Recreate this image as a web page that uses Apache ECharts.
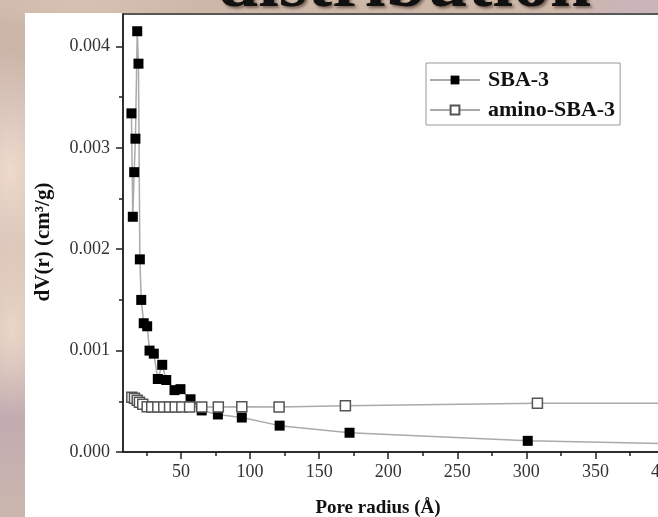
<!DOCTYPE html>
<html>
<head>
<meta charset="utf-8">
<script src="https://cdn.jsdelivr.net/npm/echarts@6/dist/echarts.min.js"></script>
<style>
  html, body { margin: 0; padding: 0; }
  body {
    width: 658px; height: 517px; position: relative; overflow: hidden;
    background:
      radial-gradient(ellipse 60px 120px at 10px 170px, rgba(245,225,210,0.85), rgba(245,225,210,0) 100%),
      radial-gradient(ellipse 50px 90px at 12px 330px, rgba(240,222,205,0.8), rgba(240,222,205,0) 100%),
      radial-gradient(ellipse 80px 30px at 640px 6px, rgba(200,180,190,0.9), rgba(200,180,190,0) 100%),
      radial-gradient(ellipse 120px 25px at 80px 4px, rgba(215,195,180,0.9), rgba(215,195,180,0) 100%),
      linear-gradient(180deg, #cdb7a8 0%, #c7b2ac 30%, #d6c0b4 55%, #c0acb0 80%, #cbb6ae 100%);
  }
  #panel { position: absolute; left: 25px; top: 13px; right: 0; bottom: 0; background: #fff; }
  #heading {
    position: absolute; left: 217px; top: -56px; width: 380px;
    font-family: "Liberation Serif", serif; font-weight: bold; font-size: 74px; line-height: 74px;
    color: #111; white-space: nowrap; text-shadow: 2px 2px 3px rgba(60,40,30,0.6);
  }
  /* the plot runs on past the right edge of the window */
  #chart { position: absolute; left: 0; top: 0; width: 790px; height: 517px; }
</style>
</head>
<body>
<div id="heading">distribution</div>
<div id="panel"></div>
<div id="chart"></div>
<script>
// pore size distribution
const sbaX = [14.1, 15.1, 16.1, 17.0, 18.3, 19.2, 20.2, 21.2, 23.0, 25.5, 27.2, 30.3, 33.2, 36.4, 39.3, 45.3, 49.6, 56.9, 65.0, 76.7, 94.0, 121.4, 172.0, 301.0, 450.0];
const sbaY = [0.00334, 0.00232, 0.00276, 0.00309, 0.00415, 0.00383, 0.00190, 0.00150, 0.00127, 0.00124, 0.00100, 0.00097, 0.00072, 0.00086, 0.00071, 0.00061, 0.00062, 0.00052, 0.00041, 0.00037, 0.00034, 0.00026, 0.00019, 0.00011, 0.00007];

const aminoX = [14.4, 16.3, 18.3, 19.9, 22.3, 25.5, 28.8, 33.2, 37.5, 41.7, 45.8, 50.6, 56.2, 65.0, 77.0, 94.0, 121.0, 169.0, 308.0, 460.0];
const aminoY = [0.00054, 0.00053, 0.00051, 0.00049, 0.00047, 0.000447, 0.000445, 0.000445, 0.000445, 0.000445, 0.000445, 0.000445, 0.000445, 0.000445, 0.000445, 0.000447, 0.000445, 0.000455, 0.00048, 0.00048];

const xMajorTicks = [50, 100, 150, 200, 250, 300, 350, 400, 450];
const xMinorTicks = [25, 75, 125, 175, 225, 275, 325, 375, 425, 475];
const yMajorTicks = [0, 0.001, 0.002, 0.003, 0.004];
const yMinorTicks = [0.0005, 0.0015, 0.0025, 0.0035];

const legendNames = ['SBA-3', 'amino-SBA-3'];

const serif = 'Liberation Serif';
const ink = '#222';

const chart = echarts.init(document.getElementById('chart'));

const toPairs = (xs, ys) => xs.map((x, i) => [x, ys[i]]);

const majorAxis = (extra) => Object.assign({
  type: 'value',
  axisLine: { show: true, onZero: false, lineStyle: { color: ink, width: 1.5 } },
  splitLine: { show: false },
}, extra);

const option = {
  animation: false,
  backgroundColor: 'transparent',
  grid: {
    // 8 -> x 123, 480 -> x ~775
    left: 123, top: 14, right: 15, bottom: 65,
    show: true, borderColor: ink, borderWidth: 1.5, backgroundColor: 'transparent'
  },
  legend: {
    orient: 'vertical',
    left: 426, top: 63,
    padding: [6, 5, 4, 3],
    itemWidth: 50, itemHeight: 11, itemGap: 8,
    backgroundColor: '#fff',
    borderColor: '#999', borderWidth: 1,
    textStyle: { fontFamily: serif, fontWeight: 'bold', fontSize: 22, color: '#111', padding: [0, 0, 0, 3] },
    data: legendNames
  },
  xAxis: [
    majorAxis({
      min: 8, max: 480, position: 'bottom',
      axisTick: { show: true, inside: false, length: 7, customValues: xMajorTicks, lineStyle: { color: ink, width: 1.5 } },
      axisLabel: { customValues: xMajorTicks, margin: 11, color: '#333', fontFamily: serif, fontSize: 18 }
    }),
    {
      type: 'value', min: 8, max: 480, position: 'bottom',
      axisLine: { show: false },
      axisTick: { show: true, inside: false, length: 4, customValues: xMinorTicks, lineStyle: { color: ink, width: 1.5 } },
      axisLabel: { show: false },
      splitLine: { show: false }
    }
  ],
  yAxis: [
    majorAxis({
      min: 0, max: 0.00432, position: 'left',
      axisTick: { show: true, inside: false, length: 7, customValues: yMajorTicks, lineStyle: { color: ink, width: 1.5 } },
      axisLabel: {
        customValues: yMajorTicks, margin: 13, color: '#333', fontFamily: serif, fontSize: 18,
        formatter: (v) => v.toFixed(3)
      }
    }),
    {
      type: 'value', min: 0, max: 0.00432, position: 'left',
      axisLine: { show: false },
      axisTick: { show: true, inside: false, length: 4, customValues: yMinorTicks, lineStyle: { color: ink, width: 1.5 } },
      axisLabel: { show: false },
      splitLine: { show: false }
    }
  ],
  graphic: [
    {
      type: 'text', x: 44, y: 242, rotation: Math.PI / 2,
      style: {
        text: 'dV(r) (cm³/g)', fill: '#111',
        font: 'bold 21px "Liberation Serif"', align: 'center', verticalAlign: 'middle'
      }
    },
    {
      type: 'text', x: 378, y: 508,
      style: {
        text: 'Pore radius (Å)', fill: '#111',
        font: 'bold 19px "Liberation Serif"', align: 'center', verticalAlign: 'middle'
      }
    }
  ],
  series: [
    {
      name: legendNames[0], type: 'line',
      data: toPairs(sbaX, sbaY),
      symbol: 'rect', symbolSize: 10,
      itemStyle: { color: '#000', borderColor: '#000', borderWidth: 0 },
      lineStyle: { color: '#aaa', width: 1.5 },
      emphasis: { disabled: true },
      z: 2
    },
    {
      name: legendNames[1], type: 'line',
      data: toPairs(aminoX, aminoY),
      symbol: 'rect', symbolSize: 10,
      itemStyle: { color: '#fff', borderColor: '#555', borderWidth: 1.5 },
      lineStyle: { color: '#aaa', width: 1.5 },
      emphasis: { disabled: true },
      z: 3
    }
  ]
};

chart.setOption(option);
window.addEventListener('resize', () => chart && chart.resize());
</script>
</body>
</html>
